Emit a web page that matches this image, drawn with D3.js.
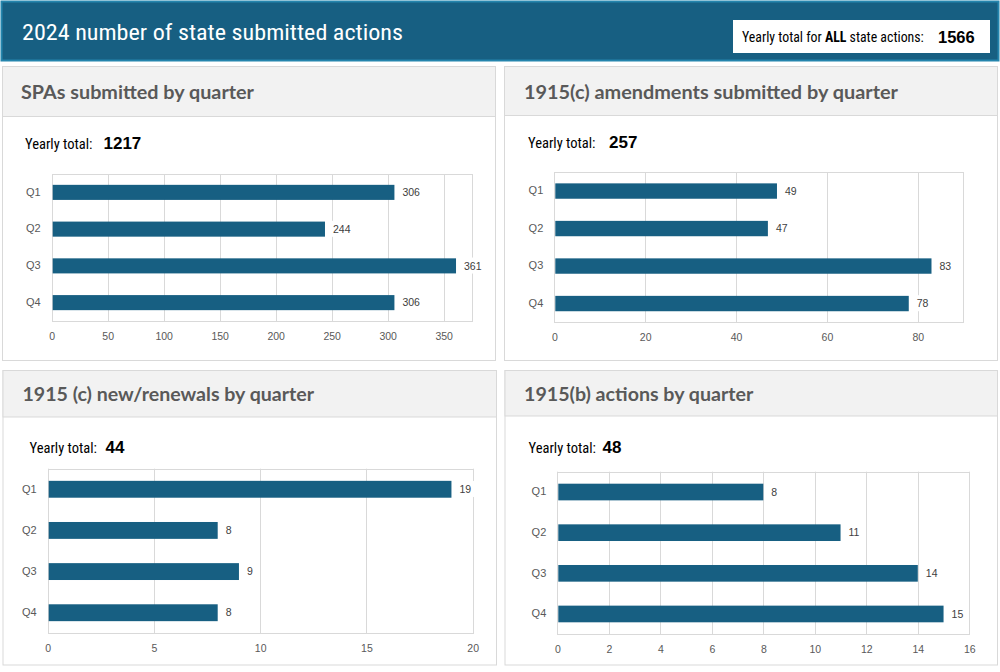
<!DOCTYPE html>
<html><head><meta charset="utf-8">
<script src="https://cdn.jsdelivr.net/npm/d3@7/dist/d3.min.js"></script>
<style>
html,body{margin:0;padding:0;background:#fff;}
svg{display:block;}
</style></head>
<body>
<svg id="chart" width="1000" height="672"></svg>
<script>
// ---- data ----
const quarters = ["Q1", "Q2", "Q3", "Q4"];
const spaValues = [306, 244, 361, 306];
const amendValues = [49, 47, 83, 78];
const renewalValues = [19, 8, 9, 8];
const bValues = [8, 11, 14, 15];
const spaTicks = [0, 50, 100, 150, 200, 250, 300, 350];
const amendTicks = [0, 20, 40, 60, 80];
const renewalTicks = [0, 5, 10, 15, 20];
const bTicks = [0, 2, 4, 6, 8, 10, 12, 14, 16];
const panelTitles = ["SPAs submitted by quarter", "1915(c) amendments submitted by quarter",
  "1915 (c) new/renewals by quarter", "1915(b) actions by quarter"];
const panelTotals = [1217, 257, 44, 48];
const grandTotal = 1566;
const mainTitle = "2024 number of state submitted actions";
const grandLabelParts = [["Yearly total for ", "normal"], ["ALL", "bold"], [" state actions:", "normal"]];

// ---- layout ----
const svg = d3.select("#chart");
const BAR = "#175f82", GRID = "#d9d9d9", TXT = "#595959";
const narrow = "'Liberation Sans Narrow','Roboto Condensed','Arial Narrow',Roboto,sans-serif";
const arial = "'Liberation Sans',Arial,sans-serif";

function fitText(sel, w) {
  const len = sel.node().getComputedTextLength();
  if (len > 0) sel.attr("textLength", w).attr("lengthAdjust", "spacingAndGlyphs");
}

// header band
svg.append("rect").attr("x", 1.5).attr("y", 1.5).attr("width", 997).attr("height", 59)
  .attr("fill", "#175f82").attr("stroke", "#2585ad").attr("stroke-width", 2);
const mt = svg.append("text").attr("x", 22).attr("y", 40).attr("fill", "#fff")
  .attr("font-family", narrow).attr("font-size", 22).text(mainTitle);
fitText(mt, 381);
svg.append("rect").attr("x", 733).attr("y", 20).attr("width", 257).attr("height", 33).attr("fill", "#fff");

// grand total label: separate texts, scaled to fit 182px
(function () {
  const gg = svg.append("g");
  let fs = 14.5;
  const items = grandLabelParts.map(([s, w]) => gg.append("text").attr("y", 42).attr("fill", "#000")
    .attr("font-family", narrow).attr("font-weight", w).attr("font-size", fs)
    .attr("xml:space", "preserve").style("white-space", "pre").text(s));
  const total = items.reduce((a, t) => a + t.node().getComputedTextLength(), 0);
  const k = total > 0 ? 182 / total : 1;
  let xx = 742;
  items.forEach(t => {
    t.attr("font-size", fs * k);
    t.attr("x", xx);
    xx += t.node().getComputedTextLength();
  });
})();
svg.append("text").attr("x", 938).attr("y", 43).attr("font-family", arial).attr("font-weight", "bold")
  .attr("font-size", 16.5).attr("fill", "#000").text(grandTotal);

const panels = [
  {values: spaValues, ticks: spaTicks, max: 375, box: [2.5, 66.5, 493, 294], hdr: 50,
   titleX: 21, titleY: 99, titleW: 233, totX: 25, totNumX: 103.5, totY: 149,
   plot: [51.7, 174, 471.7, 321]},
  {values: amendValues, ticks: amendTicks, max: 90, box: [504.5, 66.5, 493, 294], hdr: 49,
   titleX: 524, titleY: 98.5, titleW: 374, totX: 528, totNumX: 609, totY: 148,
   plot: [554.3, 172.3, 963.3, 322.3]},
  {values: renewalValues, ticks: renewalTicks, max: 20, box: [3, 370.5, 493.5, 294.5], hdr: 46.5,
   titleX: 22.5, titleY: 400.5, titleW: 291.5, totX: 29.5, totNumX: 105.5, totY: 452.5,
   plot: [47.7, 468.7, 472.7, 633.3]},
  {values: bValues, ticks: bTicks, max: 16, box: [505, 370.5, 492.5, 294.5], hdr: 45.5,
   titleX: 524, titleY: 401, titleW: 229.3, totX: 528.5, totNumX: 602.5, totY: 452.5,
   plot: [557.3, 471.7, 969.3, 634.3]}
];

panels.forEach((p, i) => {
  const g = svg.append("g");
  const [bx, by, bw, bh] = p.box;
  g.append("rect").attr("x", bx).attr("y", by).attr("width", bw).attr("height", bh)
    .attr("fill", "#fff").attr("stroke", GRID).attr("stroke-width", 1);
  g.append("rect").attr("x", bx).attr("y", by).attr("width", bw).attr("height", p.hdr)
    .attr("fill", "#f2f2f2").attr("stroke", GRID).attr("stroke-width", 1);
  const t = g.append("text").attr("x", p.titleX).attr("y", p.titleY).attr("fill", TXT)
    .attr("font-family", "Lato,'Open Sans',sans-serif").attr("font-weight", "bold")
    .attr("font-size", 19.5).text(panelTitles[i]);
  fitText(t, p.titleW);

  const yt = g.append("text").attr("x", p.totX).attr("y", p.totY).attr("fill", "#000")
    .attr("font-family", narrow).attr("font-size", 15.5).text("Yearly total:");
  fitText(yt, 67.5);
  g.append("text").attr("x", p.totNumX).attr("y", p.totY).attr("fill", "#000")
    .attr("font-family", arial).attr("font-weight", "bold").attr("font-size", 17)
    .text(panelTotals[i]);

  const [x0, y0, x1, y1] = p.plot;
  const x = d3.scaleLinear().domain([0, p.max]).range([x0, x1]);
  const y = d3.scaleBand().domain(quarters).range([y0, y1]).paddingInner(0.59).paddingOuter(0.295);

  // gridlines
  g.append("g").selectAll("line").data(p.ticks).join("line")
    .attr("x1", d => Math.round(x(d)) + 0.5).attr("x2", d => Math.round(x(d)) + 0.5)
    .attr("y1", y0).attr("y2", y1).attr("stroke", GRID).attr("stroke-width", 1);
  g.append("rect").attr("x", Math.round(x0) + 0.5).attr("y", Math.round(y0) + 0.5)
    .attr("width", Math.round(x1) - Math.round(x0)).attr("height", Math.round(y1) - Math.round(y0))
    .attr("fill", "none").attr("stroke", GRID).attr("stroke-width", 1);

  // x axis tick labels
  const xAxis = d3.axisBottom(x).tickValues(p.ticks).tickSize(0).tickPadding(0);
  const ax = g.append("g").attr("transform", `translate(0,${y1 + 15})`).call(xAxis);
  ax.select(".domain").remove();
  ax.selectAll("text").attr("fill", TXT).style("fill", TXT).attr("font-family", arial).attr("font-size", 10.5)
    .attr("dy", "0.35em").attr("y", 0);

  // y axis category labels
  const yAxis = d3.axisLeft(y).tickSize(0).tickPadding(11);
  const ay = g.append("g").attr("transform", `translate(${x0},0)`).call(yAxis);
  ay.select(".domain").remove();
  ay.selectAll("text").attr("fill", TXT).style("fill", TXT).attr("font-family", arial).attr("font-size", 11)
    .attr("dy", "0.3em");

  // bars
  g.append("g").selectAll("rect").data(p.values).join("rect")
    .attr("x", x(0) + 1).attr("y", (d, j) => y(quarters[j]))
    .attr("width", d => x(d) - x(0) - 1).attr("height", y.bandwidth()).attr("fill", BAR);

  // value labels
  const lg = g.append("g");
  p.values.forEach((v, j) => {
    const cy = y(quarters[j]) + y.bandwidth() / 2;
    const bg = lg.append("rect").attr("fill", "#fff");
    const tx = lg.append("text").attr("x", x(v) + 8).attr("y", cy).attr("dy", "0.35em")
      .attr("fill", "#404040").attr("font-family", arial).attr("font-size", 10.5).text(v);
    const bb = tx.node().getBBox();
    bg.attr("x", bb.x - 3).attr("y", bb.y - 2).attr("width", bb.width + 6).attr("height", bb.height + 4);
  });
});
</script>
</body></html>
